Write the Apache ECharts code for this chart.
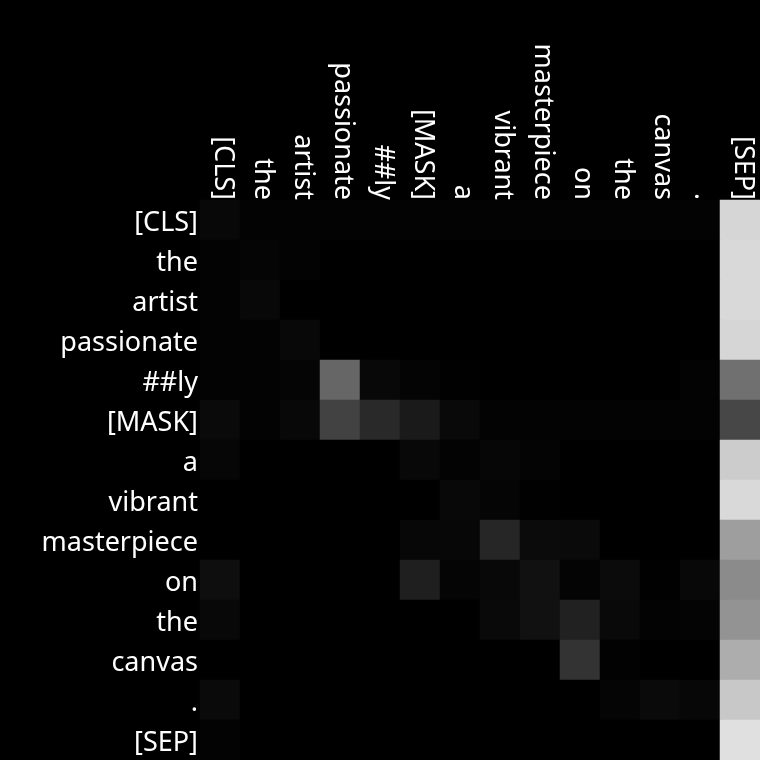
<!DOCTYPE html>
<html>
<head>
<meta charset="utf-8">
<script src="https://cdn.jsdelivr.net/npm/echarts@6/dist/echarts.min.js"></script>
<style>
  html, body { margin: 0; padding: 0; background: #000; }
  #main { width: 760px; height: 760px; }
</style>
</head>
<body>
<div id="main"></div>
<script>
var tokens = ['[CLS]', 'the', 'artist', 'passionate', '##ly', '[MASK]', 'a',
    'vibrant', 'masterpiece', 'on', 'the', 'canvas', '.', '[SEP]'];

// attention weights, one row per query token
var weights = [
    [0.03, 0.01, 0.01, 0.01, 0.01, 0.01, 0.01, 0.01, 0.01, 0.01, 0.01, 0.01, 0.01, 0.84],
    [0.01, 0.02, 0.01, 0.00, 0.00, 0.00, 0.00, 0.00, 0.00, 0.00, 0.00, 0.00, 0.00, 0.85],
    [0.01, 0.03, 0.00, 0.00, 0.00, 0.00, 0.00, 0.00, 0.00, 0.00, 0.00, 0.00, 0.00, 0.85],
    [0.01, 0.01, 0.03, 0.00, 0.00, 0.00, 0.00, 0.00, 0.00, 0.00, 0.00, 0.00, 0.00, 0.84],
    [0.01, 0.01, 0.02, 0.40, 0.03, 0.015, 0.005, 0.00, 0.00, 0.00, 0.00, 0.00, 0.01, 0.44],
    [0.04, 0.01, 0.03, 0.26, 0.16, 0.10, 0.035, 0.01, 0.01, 0.01, 0.01, 0.01, 0.01, 0.28],
    [0.025, 0.00, 0.00, 0.00, 0.00, 0.03, 0.012, 0.025, 0.015, 0.00, 0.00, 0.00, 0.00, 0.80],
    [0.00, 0.00, 0.00, 0.00, 0.00, 0.00, 0.03, 0.02, 0.005, 0.00, 0.00, 0.00, 0.00, 0.85],
    [0.00, 0.00, 0.00, 0.00, 0.00, 0.028, 0.028, 0.15, 0.045, 0.04, 0.00, 0.00, 0.00, 0.62],
    [0.055, 0.00, 0.00, 0.00, 0.00, 0.12, 0.02, 0.03, 0.065, 0.015, 0.045, 0.005, 0.03, 0.545],
    [0.03, 0.00, 0.00, 0.00, 0.00, 0.00, 0.00, 0.035, 0.065, 0.13, 0.035, 0.01, 0.015, 0.575],
    [0.00, 0.00, 0.00, 0.00, 0.00, 0.00, 0.00, 0.00, 0.00, 0.20, 0.008, 0.00, 0.00, 0.68],
    [0.04, 0.00, 0.00, 0.00, 0.00, 0.00, 0.00, 0.00, 0.00, 0.00, 0.02, 0.04, 0.028, 0.785],
    [0.012, 0.00, 0.00, 0.00, 0.00, 0.00, 0.00, 0.00, 0.00, 0.00, 0.00, 0.00, 0.00, 0.88]
];

var cells = [];
weights.forEach(function (row, i) {
    row.forEach(function (v, j) {
        cells.push([j, i, v]);
    });
});

function tokenLabel(pad, margin, rotate) {
    return {
        rotate: rotate,
        margin: margin,
        interval: 0,
        formatter: function (v) { return '{t|' + v + '}'; },
        rich: {
            t: {
                color: '#ffffff',
                fontSize: 27,
                fontFamily: 'Noto Sans',
                padding: pad
            }
        }
    };
}

var chart = echarts.init(document.getElementById('main'));
chart.setOption({
    backgroundColor: '#000000',
    animation: false,
    grid: {
        left: 200,
        top: 200,
        width: 560,
        height: 560
    },
    xAxis: {
        type: 'category',
        position: 'top',
        data: tokens,
        axisLine: { show: false },
        axisTick: { show: false },
        splitLine: { show: false },
        axisLabel: tokenLabel([0, 0, 6, 0], 0, 90)
    },
    yAxis: {
        type: 'category',
        inverse: true,
        data: tokens,
        axisLine: { show: false },
        axisTick: { show: false },
        splitLine: { show: false },
        axisLabel: tokenLabel([6, 0, 0, 0], 2, 0)
    },
    visualMap: {
        show: false,
        min: 0,
        max: 1,
        calculable: false,
        inRange: { color: ['#000000', '#ffffff'] }
    },
    series: [{
        type: 'heatmap',
        data: cells,
        itemStyle: { borderWidth: 0 },
        emphasis: { disabled: true }
    }]
});
</script>
</body>
</html>
